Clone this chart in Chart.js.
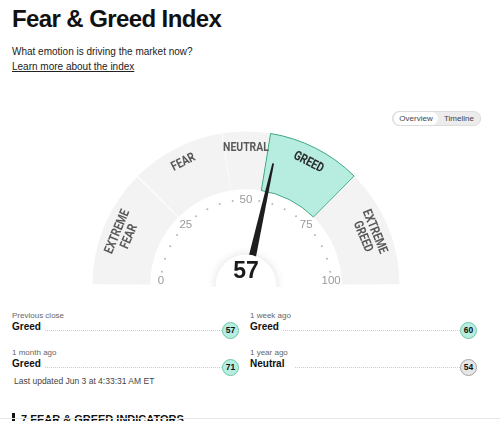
<!DOCTYPE html>
<html>
<head>
<meta charset="utf-8">
<script src="https://cdn.jsdelivr.net/npm/chart.js@4"></script>
<style>
  body { margin:0; width:500px; height:421px; overflow:hidden; background:#fff; font-family:"Liberation Sans", Arial, sans-serif; color:#111; position:relative; }
  .title { position:absolute; left:12px; top:5px; font-size:24px; font-weight:bold; letter-spacing:-0.6px; }
  .sub { position:absolute; left:12px; top:46px; font-size:10px; color:#222; }
  .learn { position:absolute; left:12px; top:61px; font-size:10px; color:#222; text-decoration:underline; }
  .toggle { position:absolute; left:392px; top:111px; width:87px; height:13px; border-radius:7px; background:#ececec; border:1px solid #ddd; font-size:8px; color:#444; }
  .toggle span { position:absolute; top:0; height:13px; line-height:13px; }
  .toggle .on { left:1px; width:44px; background:#fff; border-radius:7px; text-align:center; }
  .toggle .off { left:51px; }
  #gauge { position:absolute; left:91px; top:131px; }
  .row { position:absolute; width:228px; }
  .row .when { font-size:8px; color:#666; }
  .row .rate { font-size:10px; font-weight:bold; margin-top:1px; }
  .row .dots { position:absolute; top:19px; height:0; border-top:1px dotted #ccc; right:17px; }
  .badge { position:absolute; right:0; top:11px; width:15px; height:15px; border-radius:50%; font-size:8.5px; font-weight:bold; text-align:center; line-height:15px; }
  .updated { position:absolute; left:14px; top:376px; font-size:8.5px; color:#444; }
  .foot { position:absolute; left:0; top:418px; width:500px; border-top:1px solid #e6e6e6; }
  .ind { position:absolute; left:12px; top:413px; font-size:11px; font-weight:bold; }
  .ind:before { content:""; display:inline-block; width:3px; height:11px; background:#111; margin-right:6px; vertical-align:-1px; }
</style>
</head>
<body>
<div class="title">Fear &amp; Greed Index</div>
<div class="sub">What emotion is driving the market now?</div>
<div class="learn">Learn more about the index</div>
<div class="toggle"><span class="on">Overview</span><span class="off">Timeline</span></div>
<canvas id="gauge" width="310" height="156"></canvas>
<div id="history"></div>
<div class="updated">Last updated Jun 3 at 4:33:31 AM ET</div>
<div class="ind">7 FEAR &amp; GREED INDICATORS</div>
<div class="foot"></div>

<script>
// ===== DATA =====
const zoneNames = [["EXTREME", "FEAR"], ["FEAR"], ["NEUTRAL"], ["GREED"], ["EXTREME", "GREED"]];
const zoneBounds = [0, 25, 45, 55, 75, 100];
const currentValue = 57;
const tickLabels = [0, 25, 50, 75, 100];
const tickDots = [5, 10, 15, 20, 30, 35, 40, 45, 55, 60, 65, 70, 80, 85, 90, 95];

const historyLabels = ["Previous close", "1 week ago", "1 month ago", "1 year ago"];
const historyRatings = ["Greed", "Greed", "Greed", "Neutral"];
const historyValues = [57, 60, 71, 54];

// ===== ZONES =====
const zoneSizes = zoneBounds.slice(1).map((b, i) => b - zoneBounds[i]);
const activeZone = zoneBounds.findIndex((b, i) => currentValue >= b && currentValue < zoneBounds[i + 1]);
const zoneColors = zoneSizes.map((_, i) => i === activeZone ? "#b7ece1" : "#f3f3f3");
const zoneBorders = zoneSizes.map((_, i) => i === activeZone ? 1 : 0);

// ===== GAUGE PLUGIN =====
const gaugePlugin = {
  id: "gauge",
  afterDatasetsDraw(chart) {
    const arcs = chart.getDatasetMeta(0).data;
    const ctx = chart.ctx;
    const cx = arcs[0].x, cy = arcs[0].y;
    const outer = arcs[0].outerRadius;
    const a0 = arcs[0].startAngle, a1 = arcs[arcs.length - 1].endAngle;
    const toAngle = v => a0 + (v / 100) * (a1 - a0);
    const scaleR = outer * 0.56;

    ctx.save();

    // zone labels (condensed look via horizontal squeeze)
    arcs.forEach((arc, i) => {
      const mid = (arc.startAngle + arc.endAngle) / 2;
      const lines = zoneNames[i];
      const radii = lines.length > 1 ? [outer * 0.915, outer * 0.83] : [outer * 0.905];
      ctx.font = 'bold 13px Roboto, "Liberation Sans", sans-serif';
      ctx.fillStyle = i === activeZone ? "#2a2a2a" : "#595959";
      ctx.textAlign = "center";
      ctx.textBaseline = "middle";
      lines.forEach((txt, j) => {
        const x = cx + Math.cos(mid) * radii[j];
        const y = cy + Math.sin(mid) * radii[j];
        ctx.save();
        ctx.translate(x, y);
        ctx.rotate(mid + Math.PI / 2);
        ctx.scale(0.8, 1);
        ctx.fillText(txt, 0, 0);
        ctx.restore();
      });
    });

    // dots
    ctx.fillStyle = "#b5b5b5";
    tickDots.forEach(v => {
      const a = toAngle(v);
      ctx.beginPath();
      ctx.arc(cx + Math.cos(a) * scaleR, cy + Math.sin(a) * scaleR, 1, 0, Math.PI * 2);
      ctx.fill();
    });

    // tick labels
    ctx.font = '11.5px "Liberation Sans", Arial, sans-serif';
    ctx.fillStyle = "#9a9a9a";
    ctx.textAlign = "center";
    ctx.textBaseline = "middle";
    tickLabels.forEach(v => {
      const a = toAngle(v);
      const x = cx + Math.cos(a) * scaleR;
      const y = Math.min(cy + Math.sin(a) * scaleR, cy - 4);
      ctx.fillText(String(v), x, y);
    });

    // needle
    const na = toAngle(currentValue);
    const nx = Math.cos(na), ny = Math.sin(na);
    const px = -ny, py = nx;
    const rBase = 15, rTip = outer * 0.82;
    ctx.fillStyle = "#1e1e1e";
    ctx.beginPath();
    ctx.moveTo(cx + nx * rBase + px * 4, cy + ny * rBase + py * 4);
    ctx.lineTo(cx + nx * rTip + px * 0.9, cy + ny * rTip + py * 0.9);
    ctx.lineTo(cx + nx * rTip - px * 0.9, cy + ny * rTip - py * 0.9);
    ctx.lineTo(cx + nx * rBase - px * 4, cy + ny * rBase - py * 4);
    ctx.closePath();
    ctx.fill();

    // center disc
    ctx.save();
    ctx.shadowColor = "rgba(0,0,0,0.13)";
    ctx.shadowBlur = 10;
    ctx.fillStyle = "#fff";
    ctx.beginPath();
    ctx.arc(cx, cy, outer * 0.2, 0, Math.PI * 2);
    ctx.fill();
    ctx.restore();

    ctx.font = 'bold 23px "Liberation Sans", Arial, sans-serif';
    ctx.fillStyle = "#1a1a1a";
    ctx.textAlign = "center";
    ctx.textBaseline = "alphabetic";
    ctx.fillText(String(currentValue), cx, cy - 7);

    ctx.restore();
  }
};

new Chart(document.getElementById("gauge").getContext("2d"), {
  type: "doughnut",
  data: {
    labels: zoneNames.map(n => n.join(" ")),
    datasets: [{
      data: zoneSizes,
      backgroundColor: zoneColors,
      borderColor: "#3fa77d",
      borderWidth: zoneBorders,
      spacing: 3
    }]
  },
  options: {
    responsive: false,
    animation: false,
    events: [],
    rotation: -90,
    circumference: 180,
    cutout: "62%",
    plugins: { legend: { display: false }, tooltip: { enabled: false } }
  },
  plugins: [gaugePlugin]
});

// ===== HISTORY ROWS =====
const hist = document.getElementById("history");
historyLabels.forEach((lbl, i) => {
  const col = i % 2, line = Math.floor(i / 2);
  const row = document.createElement("div");
  row.className = "row";
  row.style.left = (col ? 250 : 12) + "px";
  row.style.width = "227px";
  row.style.top = (311 + line * 37) + "px";
  const neutral = historyRatings[i] === "Neutral";
  const rateW = historyRatings[i].length * 5.8 + 4;
  row.innerHTML = `
    <div class="when">${lbl}</div>
    <div class="rate">${historyRatings[i]}</div>
    <div class="dots" style="left:${rateW}px"></div>
    <div class="badge" style="background:${neutral ? "#e6e6e6" : "#b7ece1"};border:1px solid ${neutral ? "#a3a3a3" : "#6ccaa9"}">${historyValues[i]}</div>
  `;
  hist.appendChild(row);
});
</script>
</body>
</html>
